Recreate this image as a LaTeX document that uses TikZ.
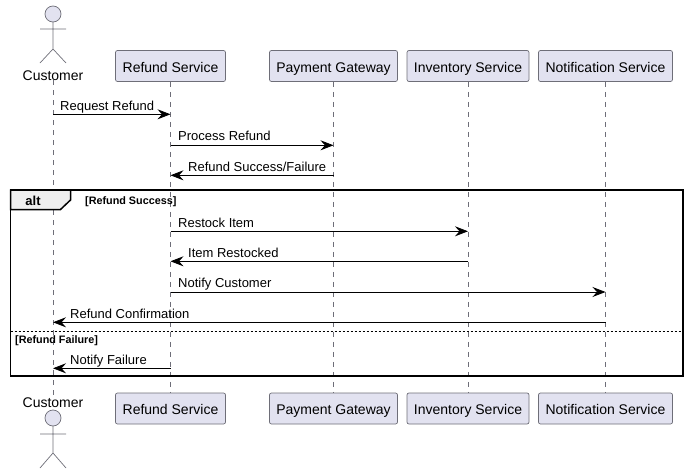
\documentclass[tikz,border=0pt]{standalone}
\usepackage{fontspec}
\setmainfont{Liberation Sans}
\usetikzlibrary{positioning}
\usetikzlibrary{arrows.meta}
\definecolor{partfill}{HTML}{E2E2F0}
\definecolor{partline}{HTML}{6E6E78}
\definecolor{tabfill}{HTML}{EEEEEE}
\tikzset{
	partbox/.style={draw=partline,fill=partfill,rounded corners=2pt,line width=0.7pt,minimum height=31pt,inner sep=0pt,text height=12.5pt,text depth=0pt,font=\fontsize{14}{16}\selectfont},
	actorline/.style={draw=partline,line width=0.7pt},
	actorname/.style={inner sep=0pt,text height=10pt,text depth=0pt,font=\fontsize{14}{16}\selectfont},
	lifeline/.style={draw=partline,line width=0.6pt,dash pattern=on 5pt off 5pt},
	msg/.style={black,line width=0.8pt,-{Stealth[length=13pt,width=10pt,inset=4.5pt]}},
	msglabel/.style={anchor=base west,inner sep=0pt,font=\fontsize{13}{15}\selectfont},
	guard/.style={anchor=base west,inner sep=0pt,font=\fontsize{10.8}{12}\selectfont\bfseries},
	frameline/.style={draw=black,line width=1.5pt},
}
\begin{document}
\begin{tikzpicture}[x=1pt,y=-1pt]
	\useasboundingbox (0,0) rectangle (689,474);
	% top row
	\node[actorname](custtop) at (53,75){Customer};
	\node[partbox,minimum width=110pt](reftop) at (170.5,66){Refund Service};
	\node[partbox,minimum width=128pt](paytop) at (333.5,66){Payment Gateway};
	\node[partbox,minimum width=122pt](invtop) at (468,66){Inventory Service};
	\node[partbox,minimum width=134pt](nottop) at (605.5,66){Notification Service};
	% bottom row
	\node[actorname](custbot) at (53,402){Customer};
	\node[partbox,minimum width=110pt](refbot) at (170.5,408.5){Refund Service};
	\node[partbox,minimum width=128pt](paybot) at (333.5,408.5){Payment Gateway};
	\node[partbox,minimum width=122pt](invbot) at (468,408.5){Inventory Service};
	\node[partbox,minimum width=134pt](notbot) at (605.5,408.5){Notification Service};
	% lifelines
	\draw[lifeline] (custtop) -- (custbot);
	\draw[lifeline] (reftop) -- (refbot);
	\draw[lifeline] (paytop) -- (paybot);
	\draw[lifeline] (invtop) -- (invbot);
	\draw[lifeline] (nottop) -- (notbot);
	% actors
	\draw[actorline,fill=partfill] (53,14) circle (8);
	\draw[actorline] (53,22) -- (53,49) (40,29) -- (66,29) (40,63) -- (53,49) -- (66,63);
	\draw[actorline,fill=partfill] (53,418) circle (8);
	\draw[actorline] (53,426) -- (53,453) (40,434) -- (66,434) (40,468) -- (53,453) -- (66,468);
	% rows of the messages
	\coordinate (m1) at (0,114.3);
	\coordinate (m2) at (0,145.3);
	\coordinate (m3) at (0,175.3);
	\coordinate (m4) at (0,231.3);
	\coordinate (m5) at (0,261.3);
	\coordinate (m6) at (0,292);
	\coordinate (m7) at (0,322.3);
	\coordinate (m8) at (0,368.3);
	\draw[msg] (custtop |- m1) -- (reftop |- m1);
	\draw[msg] (reftop |- m2) -- (paytop |- m2);
	\draw[msg] (paytop |- m3) -- (reftop |- m3);
	\draw[msg] (reftop |- m4) -- (invtop |- m4);
	\draw[msg] (invtop |- m5) -- (reftop |- m5);
	\draw[msg] (reftop |- m6) -- (nottop |- m6);
	\draw[msg] (nottop |- m7) -- (custtop |- m7);
	\draw[msg] (reftop |- m8) -- (custtop |- m8);
	\node[msglabel](l1) at (60,110){Request Refund};
	\node[msglabel](l2) at (178,140){Process Refund};
	\node[msglabel](l3) at (188,171){Refund Success/Failure};
	\node[msglabel](l4) at (178,227){Restock Item};
	\node[msglabel](l5) at (188,257){Item Restocked};
	\node[msglabel](l6) at (178,287){Notify Customer};
	\node[msglabel](l7) at (70,318){Refund Confirmation};
	\node[msglabel](l8) at (70,364){Notify Failure};
	% alt frame
	\draw[frameline,fill=tabfill] (10.5,190) -- (70.5,190) -- (70.5,200) -- (60.5,209.5) -- (10.5,209.5) -- cycle;
	\draw[frameline] (10.5,190) rectangle (683,376);
	\draw[black,line width=0.6pt,dash pattern=on 2pt off 2pt] (10.5,331.5) -- (683,331.5);
	\node[inner sep=0pt,font=\fontsize{13}{15}\selectfont\bfseries](alttag) at (33,201){alt};
	\node[guard](g1) at (85,204){[Refund Success]};
	\node[guard](g2) at (15,343){[Refund Failure]};
\end{tikzpicture}
\end{document}
